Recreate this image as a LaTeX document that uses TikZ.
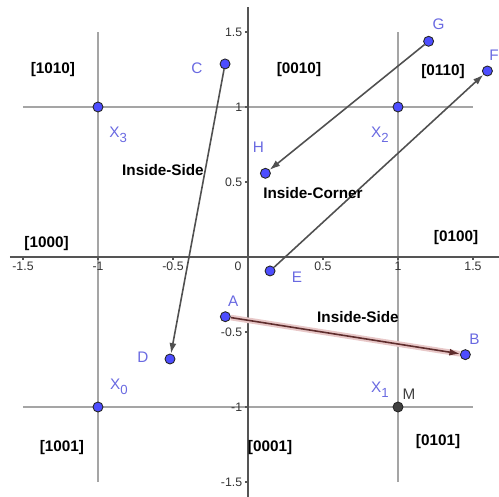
\documentclass[tikz,border=0pt]{standalone}
\usepackage{fontspec}
\setmainfont{Liberation Sans}
\usepackage{tikz}
\usetikzlibrary{arrows.meta}

\definecolor{ptblue}{RGB}{77,77,255}
\definecolor{lblblue}{RGB}{105,105,225}
\definecolor{gridgray}{RGB}{165,165,165}
\definecolor{axisgray}{RGB}{85,85,85}
\definecolor{vecgray}{RGB}{80,80,80}
\definecolor{vecbrown}{RGB}{95,45,45}
\definecolor{halopink}{RGB}{232,200,200}

\newcommand{\lowsub}[1]{\raisebox{-0.6ex}{\fontsize{7.5}{8}\selectfont #1}}

\begin{document}
\begin{tikzpicture}[
    x=3cm, y=3cm,
    every node/.style={font=\fontsize{8.7}{10}\selectfont},
    gpoint/.style={
        circle,
        draw=black!85,
        line width=0.5pt,
        fill=ptblue,
        inner sep=0pt,
        minimum size=0.2cm
    },
    mpoint/.style={gpoint, fill=black!75},
    ptlabel/.style={text=lblblue, inner sep=0pt},
    region/.style={font=\bfseries\fontsize{8.7}{10}\selectfont, inner sep=0pt},
    ticklbl/.style={font=\fontsize{7}{8}\selectfont, text=black!80, inner sep=1pt},
    gridline/.style={gridgray, line width=1.1pt},
    axis/.style={axisgray, line width=0.8pt},
    vec/.style={
        -{Latex[length=6pt,width=4pt]},
        vecgray,
        line width=0.9pt
    }
]
\useasboundingbox (-1.6533,-1.5933) rectangle (1.6733,1.7133);

% grid lines through the corner points
\draw[gridline] (-1,-1.5) -- (-1,1.5);
\draw[gridline] (1,-1.5) -- (1,1.5);
\draw[gridline] (-1.5,1) -- (1.5,1);
\draw[gridline] (-1.5,-1) -- (1.5,-1);

% axes
\draw[axis] (-1.587,0) -- (1.70,0);
\draw[axis] (0,-1.62) -- (0,1.667);
\foreach \v [count=\i] in {-1.5,-1,-0.5,0.5,1,1.5} {
    \draw[axis] (\v,0) -- (\v,-0.02);
    \node[ticklbl, anchor=north] (tx\i) at (\v,-0.02) {\v};
    \draw[axis] (0,\v) -- (-0.02,\v);
    \node[ticklbl, anchor=east] (ty\i) at (-0.025,\v) {\v};
}
\node[ticklbl, anchor=north east] (origin) at (-0.03,-0.02) {0};

% points
\node[gpoint] (X3) at (-1,1) {};
\node[gpoint] (X2) at (1,1) {};
\node[gpoint] (X0) at (-1,-1) {};
\node[mpoint] (M) at (1,-1) {};
\node[gpoint] (C) at (-0.153,1.287) {};
\node[gpoint] (D) at (-0.52,-0.68) {};
\node[gpoint] (G) at (1.204,1.438) {};
\node[gpoint] (H) at (0.116,0.558) {};
\node[gpoint] (E) at (0.147,-0.093) {};
\node[gpoint] (F) at (1.596,1.24) {};
\node[gpoint] (A) at (-0.151,-0.398) {};
\node[gpoint] (B) at (1.449,-0.651) {};

% vectors
\draw[vec] (C) -- (D);
\draw[vec] (G) -- (H);
\draw[vec] (E) -- (F);
\draw[halopink, line width=3.2pt] (A) -- (B);
\draw[vec, vecbrown] (A) -- (B);

% point labels
\node[ptlabel] (lC) at ([shift={(-0.187,-0.027)}]C) {C};
\node[ptlabel] (lD) at ([shift={(-0.18,0.013)}]D) {D};
\node[ptlabel] (lG) at ([shift={(0.067,0.113)}]G) {G};
\node[ptlabel] (lH) at ([shift={(-0.047,0.173)}]H) {H};
\node[ptlabel] (lE) at ([shift={(0.18,-0.04)}]E) {E};
\node[ptlabel] (lF) at ([shift={(0.045,0.105)}]F) {F};
\node[ptlabel] (lA) at ([shift={(0.053,0.10)}]A) {A};
\node[ptlabel] (lB) at ([shift={(0.06,0.10)}]B) {B};
\node[ptlabel] (lX3) at ([shift={(0.135,-0.187)}]X3) {X\lowsub{3}};
\node[ptlabel] (lX2) at ([shift={(-0.12,-0.187)}]X2) {X\lowsub{2}};
\node[ptlabel] (lX0) at ([shift={(0.14,0.133)}]X0) {X\lowsub{0}};
\node[ptlabel] (lX1) at ([shift={(-0.12,0.113)}]M) {X\lowsub{1}};
\node[ptlabel, text=black!75] (lM) at ([shift={(0.073,0.087)}]M) {M};

% region codes
\node[region] (r1010) at (-1.30,1.247) {[1010]};
\node[region] (r0010) at (0.34,1.247) {[0010]};
\node[region] (r0110) at (1.30,1.233) {[0110]};
\node[region] (r1000) at (-1.343,0.087) {[1000]};
\node[region] (r0100) at (1.387,0.127) {[0100]};
\node[region] (r1001) at (-1.24,-1.267) {[1001]};
\node[region] (r0001) at (0.147,-1.267) {[0001]};
\node[region] (r0101) at (1.267,-1.227) {[0101]};

% cases
\node[region] (side1) at (-0.567,0.58) {Inside-Side};
\node[region] (corner) at (0.433,0.427) {Inside-Corner};
\node[region] (side2) at (0.733,-0.40) {Inside-Side};

\end{tikzpicture}
\end{document}
